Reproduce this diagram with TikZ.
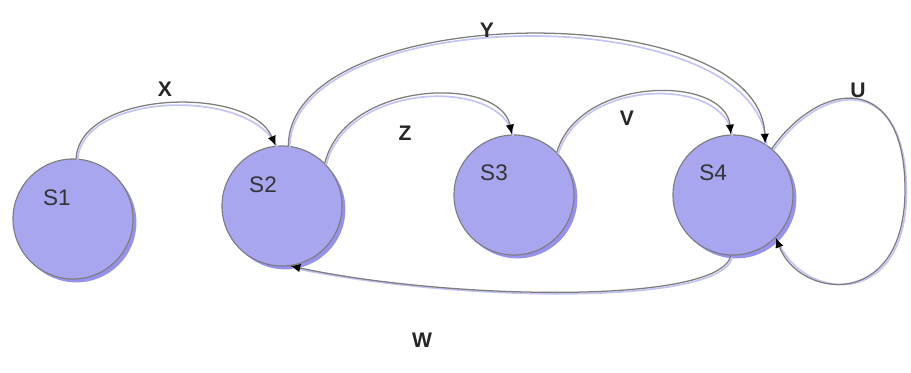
\documentclass[tikz,border=0pt]{standalone}
\usepackage{fontspec}
\setmainfont{Liberation Sans}
\usetikzlibrary{arrows.meta}

\definecolor{stateblue}{RGB}{168,166,238}
\definecolor{stateshade}{RGB}{150,146,236}
\definecolor{edgegray}{RGB}{125,125,125}
\definecolor{edgeglow}{RGB}{195,195,245}

\tikzset{
  state/.style={circle, minimum size=3cm, draw=edgegray, line width=0.8pt,
    fill=stateblue,
    preaction={fill=stateshade, draw=none,
      transform canvas={shift={(2.4pt,-2.4pt)}}}},
  statelabel/.style={font=\fontsize{16}{18}\selectfont, text=black!80},
  trans/.style={draw=edgegray, line width=0.9pt,
    -{Latex[length=7pt,width=6pt,black]},
    preaction={draw=edgeglow, line width=1.2pt, -,
      transform canvas={shift={(1pt,-1.2pt)}}}},
  translabel/.style={font=\fontsize{15}{17}\selectfont\bfseries, text=black!85}
}

\begin{document}
\begin{tikzpicture}[x=0.025cm, y=-0.025cm]
    \useasboundingbox (0,0) rectangle (911,373);

    % states
    \node[state] (s1) at (73,219) {};
    \node[state] (s2) at (282,206) {};
    \node[state] (s3) at (514,195) {};
    \node[state] (s4) at (733,195) {};

    \node[statelabel] at (57,198) {S1};
    \node[statelabel] at (263,185) {S2};
    \node[statelabel] at (494,173) {S3};
    \node[statelabel] at (713,173) {S4};

    % transitions
    \draw[trans] (s1.87) .. controls (80,90) and (250,85) .. (s2.96);
    \draw[trans] (s2.84) .. controls (290,0) and (760,-5) .. (s4.58);
    \draw[trans] (s2.45) .. controls (345,80) and (500,75) .. (s3.92);
    \draw[trans] (s3.45) .. controls (580,75) and (725,75) .. (s4.92);
    \draw[trans] (s4.50) .. controls (820,80) and (905,70) .. (905,190)
                         .. controls (905,310) and (800,300) .. (s4.-45);
    \draw[trans] (s4.-92) .. controls (720,305) and (450,300) .. (s2.-82);

    % labels
    \node[translabel] at (165,89) {X};
    \node[translabel] at (487,30) {Y};
    \node[translabel] at (405,133) {Z};
    \node[translabel] at (627,118) {V};
    \node[translabel] at (858,90) {U};
    \node[translabel] at (422,340) {W};
\end{tikzpicture}
\end{document}
